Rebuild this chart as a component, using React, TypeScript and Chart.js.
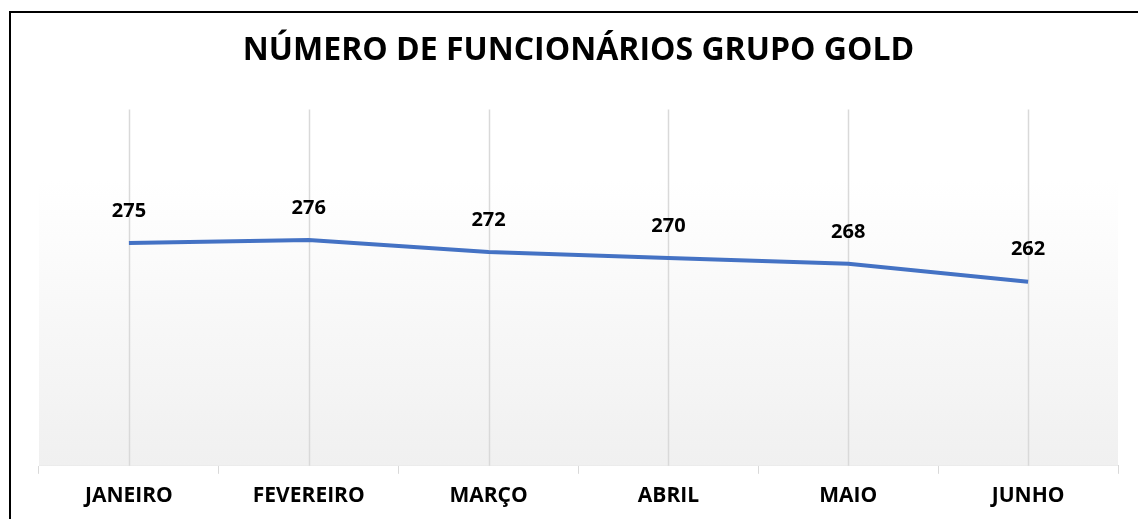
import React, { useEffect, useRef } from "react";
import { Chart, registerables } from "chart.js";

Chart.register(...registerables);

const TITLE = "NÚMERO DE FUNCIONÁRIOS GRUPO GOLD";
const MONTHS = ["JANEIRO", "FEVEREIRO", "MARÇO", "ABRIL", "MAIO", "JUNHO"];
const EMPLOYEES = [275, 276, 272, 270, 268, 262];
const Y_MIN = 200;
const Y_MAX = 320;

const FONT = "'Open Sans', 'DejaVu Sans', sans-serif";

const bgPlugin = {
  id: "bgGrid",
  beforeDatasetsDraw(chart: any) {
    const { ctx, chartArea } = chart;
    const { left, right, top, bottom } = chartArea;
    ctx.save();
    const g = ctx.createLinearGradient(0, top, 0, bottom);
    g.addColorStop(0, "#ffffff");
    g.addColorStop(0.2, "#ffffff");
    g.addColorStop(1, "#f0f0f0");
    ctx.fillStyle = g;
    ctx.fillRect(left, top, right - left, bottom - top);
    const xs = chart.scales.x;
    ctx.strokeStyle = "#d9d9d9";
    ctx.lineWidth = 1.5;
    MONTHS.forEach((_, i) => {
      const x = Math.round(xs.getPixelForValue(i)) + 0.5;
      ctx.beginPath();
      ctx.moveTo(x, top);
      ctx.lineTo(x, bottom);
      ctx.stroke();
    });
    ctx.restore();
  },
  afterDatasetsDraw(chart: any) {
    const { ctx } = chart;
    const meta = chart.getDatasetMeta(0);
    ctx.save();
    ctx.fillStyle = "#000000";
    ctx.font = `bold 20px ${FONT}`;
    ctx.textAlign = "center";
    ctx.textBaseline = "middle";
    meta.data.forEach((pt: any, i: number) => {
      ctx.fillText(String(EMPLOYEES[i]), pt.x, pt.y - 32);
    });
    ctx.restore();
  },
};

export default function App() {
  const ref = useRef<HTMLCanvasElement | null>(null);
  useEffect(() => {
    if (!ref.current) return;
    const chart = new Chart(ref.current, {
      type: "line",
      data: {
        labels: MONTHS,
        datasets: [
          {
            data: EMPLOYEES,
            borderColor: "#4472C4",
            borderWidth: 4,
            pointRadius: 0,
            tension: 0,
            fill: false,
          },
        ],
      },
      options: {
        animation: false,
        responsive: false,
        maintainAspectRatio: false,
        layout: { padding: { left: 28, right: 20, top: 0, bottom: 0 } },
        plugins: {
          legend: { display: false },
          tooltip: { enabled: false },
          title: {
            display: true,
            text: TITLE,
            color: "#000000",
            font: { family: FONT, size: 32, weight: "bold" },
            padding: { top: 19, bottom: 39 },
          },
        },
        scales: {
          x: {
            offset: true,
            grid: {
              offset: true,
              drawOnChartArea: false,
              drawTicks: true,
              tickLength: 8,
              color: "#d9d9d9",
            },
            border: { display: true, color: "#d9d9d9", width: 1 },
            ticks: {
              color: "#000000",
              padding: 10,
              font: { family: FONT, size: 21, weight: "bold" },
            },
          },
          y: {
            display: false,
            min: Y_MIN,
            max: Y_MAX,
          },
        },
      },
      plugins: [bgPlugin],
    });
    return () => chart.destroy();
  }, []);

  return (
    <div
      style={{
        position: "fixed",
        left: 0,
        top: 0,
        width: 1138,
        height: 519,
        overflow: "hidden",
        background: "#ffffff",
      }}
    >
      <div
        style={{
          position: "absolute",
          left: 9,
          top: 11,
          width: 1140,
          height: 520,
          borderLeft: "2px solid #000",
          borderTop: "2px solid #000",
          boxSizing: "border-box",
        }}
      />
      <canvas
        ref={ref}
        width={1127}
        height={506}
        style={{ position: "absolute", left: 11, top: 13, width: 1127, height: 506 }}
      />
    </div>
  );
}
